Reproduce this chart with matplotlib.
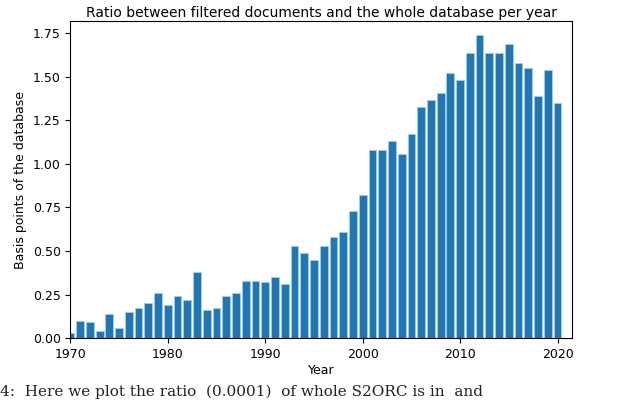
import matplotlib.pyplot as plt
import numpy as np

years = np.arange(1970, 2021)
ratio = [0.03, 0.10, 0.09, 0.04, 0.14, 0.06, 0.15, 0.17, 0.20, 0.26,
         0.19, 0.24, 0.22, 0.38, 0.16, 0.17, 0.24, 0.26, 0.33, 0.33,
         0.32, 0.35, 0.31, 0.53, 0.49, 0.45, 0.53, 0.58, 0.61, 0.73,
         0.82, 1.08, 1.08, 1.13, 1.06, 1.17, 1.33, 1.37, 1.41, 1.52,
         1.48, 1.64, 1.74, 1.64, 1.64, 1.69, 1.58, 1.55, 1.39, 1.54,
         1.35]

fig = plt.figure(figsize=(6.4, 4.01), dpi=100)
ax = fig.add_axes([0.11, 0.157, 0.784, 0.79])
ax.bar(years, ratio, width=0.8, color="#1f77b4", edgecolor="#a6cde8", linewidth=0.6)
ax.set_xlim(1970, 2021.5)
ax.set_ylim(0, 1.82)
ax.set_yticks(np.arange(0, 1.76, 0.25))
ax.set_xlabel("Year", fontsize=9, labelpad=2)
ax.set_ylabel("Basis points of the database", fontsize=9)
ax.set_title("Ratio between filtered documents and the whole database per year", fontsize=10, pad=3)
ax.tick_params(labelsize=9)

fig.text(0.0, 0.012, "4:  Here we plot the ratio  (0.0001)  of whole S2ORC is in  and",
         family="DejaVu Serif", fontsize=11, color="#222222")
fig.savefig("out.png", dpi=100, facecolor="white")
